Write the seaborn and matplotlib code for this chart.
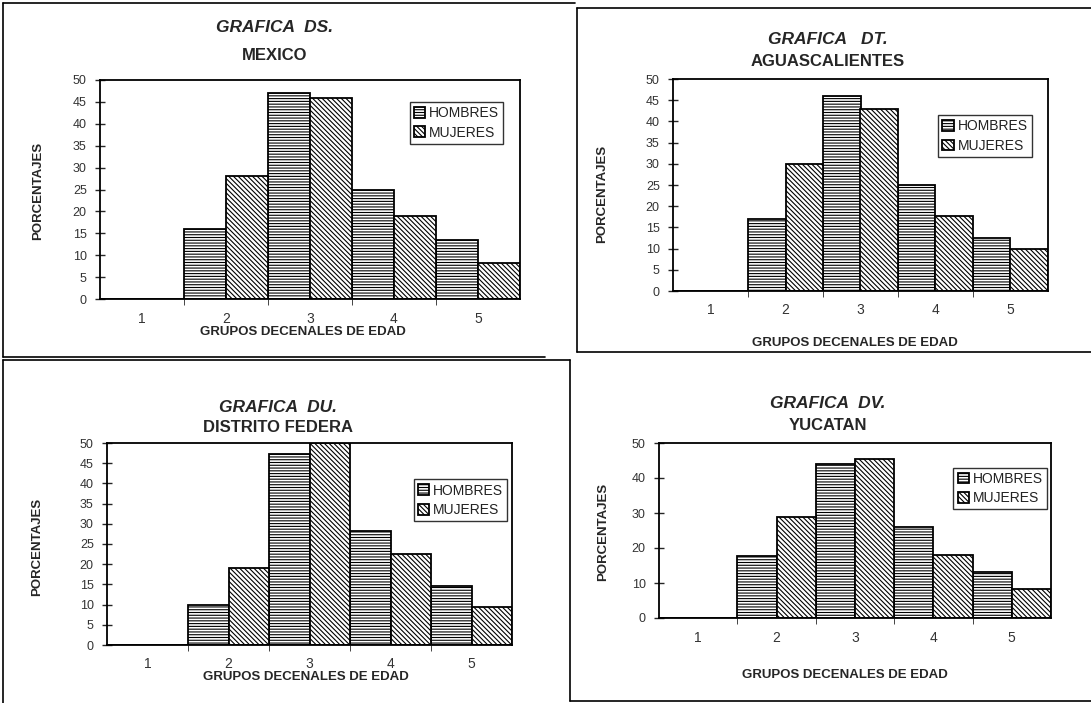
import numpy as np
import pandas as pd
import matplotlib
matplotlib.use('Agg')
import matplotlib.pyplot as plt
import seaborn as sns
from matplotlib.lines import Line2D
from matplotlib.ticker import FixedLocator

grupos = ['1', '2', '3', '4', '5']
sexos = ['HOMBRES', 'MUJERES']

mexico_h = [0, 16, 47, 25, 13.5]
mexico_m = [0, 28, 46, 19, 8.3]
ags_h = [0, 17, 46, 25, 12.5]
ags_m = [0, 30, 43, 17.8, 10]
df_h = [0, 10, 47.3, 28.2, 14.6]
df_m = [0, 19, 50, 22.5, 9.5]
yuc_h = [0, 17.7, 44, 26, 13.1]
yuc_m = [0, 29, 45.3, 18, 8.2]

titulos = ['GRAFICA  DS.', 'GRAFICA   DT.', 'GRAFICA  DU.', 'GRAFICA  DV.']
estados = ['MEXICO', 'AGUASCALIENTES', 'DISTRITO FEDERA', 'YUCATAN']
paso_y = [5, 5, 5, 10]

W, H = 1091, 703
sns.set_style('white')
plt.rcParams['font.family'] = ['Liberation Sans', 'DejaVu Sans']
plt.rcParams['hatch.linewidth'] = 0.8

fig = plt.figure(figsize=(W / 100, H / 100), dpi=100)

# panel layout in pixels: axes box, title center/y, ylabel x/y, xlabel x/y, legend anchor
paneles = [
    dict(box=(100, 80, 520, 299), tx=275, ty=(28, 55), yl=(38, 191), xl=(303, 332), leg=(0.96, 0.90)),
    dict(box=(673, 79, 1048, 291), tx=828, ty=(40, 62), yl=(602, 194), xl=(855, 343), leg=(0.957, 0.83)),
    dict(box=(107, 443, 512, 645), tx=278, ty=(407, 428), yl=(37, 547), xl=(306, 677), leg=(0.988, 0.82)),
    dict(box=(659, 443, 1051, 618), tx=828, ty=(403, 425), yl=(603, 532), xl=(845, 675), leg=(0.99, 0.86)),
]
datos = [(mexico_h, mexico_m), (ags_h, ags_m), (df_h, df_m), (yuc_h, yuc_m)]

for i, p in enumerate(paneles):
    x0, y0, x1, y1 = p['box']
    ax = fig.add_axes([x0 / W, 1 - y1 / H, (x1 - x0) / W, (y1 - y0) / H])
    h, m = datos[i]
    d = pd.DataFrame({'grupo': grupos * 2,
                      'pct': h + m,
                      'sexo': [sexos[0]] * 5 + [sexos[1]] * 5})
    sns.barplot(data=d, x='grupo', y='pct', hue='sexo', width=1.0, dodge=True,
                palette=['white', 'white'], edgecolor='black', linewidth=1.3,
                legend=False, ax=ax)
    for cont, hatch in zip(ax.containers, ['-' * 6, '\\' * 7]):
        for bar in cont:
            bar.set_hatch(hatch)
    ax.set_xlim(-0.5, 4.5)
    ax.set_ylim(0, 50)
    ax.set_yticks(np.arange(0, 51, paso_y[i]))
    ax.tick_params(axis='y', direction='inout', length=7, width=1, labelsize=9,
                   labelcolor='#333333', pad=6, left=True)
    ax.tick_params(axis='x', which='major', length=0, labelsize=10,
                   labelcolor='#333333', pad=9)
    ax.xaxis.set_minor_locator(FixedLocator([0.5, 1.5, 2.5, 3.5]))
    ax.tick_params(axis='x', which='minor', direction='out', length=4, bottom=True)
    ax.set_xlabel('')
    ax.set_ylabel('')
    for s in ax.spines.values():
        s.set_color('black')
        s.set_linewidth(1.3)
    leg = ax.legend(ax.containers, sexos, loc='upper right', bbox_to_anchor=p['leg'],
                    fontsize=10, frameon=True, fancybox=False, edgecolor='black',
                    handlelength=0.8, handleheight=0.8, handletextpad=0.3,
                    borderpad=0.3, labelspacing=0.4, borderaxespad=0)
    leg.get_frame().set_linewidth(1)
    for t in leg.get_texts():
        t.set_color('#222222')

    fig.text(p['tx'] / W, 1 - p['ty'][0] / H, titulos[i], ha='center', va='center',
             fontsize=12.5, fontweight='bold', fontstyle='italic')
    fig.text(p['tx'] / W, 1 - p['ty'][1] / H, estados[i], ha='center', va='center',
             fontsize=12, fontweight='bold')
    fig.text(p['yl'][0] / W, 1 - p['yl'][1] / H, 'PORCENTAJES', rotation=90,
             ha='center', va='center', fontsize=9.5, fontweight='bold')
    fig.text(p['xl'][0] / W, 1 - p['xl'][1] / H, 'GRUPOS DECENALES DE EDAD',
             ha='center', va='center', fontsize=9.5, fontweight='bold')

# panel frames (scanned page borders)
lineas = [
    ((3, 3), (3, 357)), ((3, 575), (3, 3)), ((3, 545), (357, 357)),
    ((577, 577), (8, 352)), ((577, 1091), (8, 8)), ((577, 1091), (352, 352)),
    ((3, 3), (360, 703)), ((3, 570), (360, 360)),
    ((570, 570), (360, 701)), ((570, 1091), (701, 701)),
]
for xs, ys in lineas:
    fig.add_artist(Line2D([x / W for x in xs], [1 - y / H for y in ys],
                          color='black', linewidth=1.2))

fig.savefig('out.png', dpi=100)
